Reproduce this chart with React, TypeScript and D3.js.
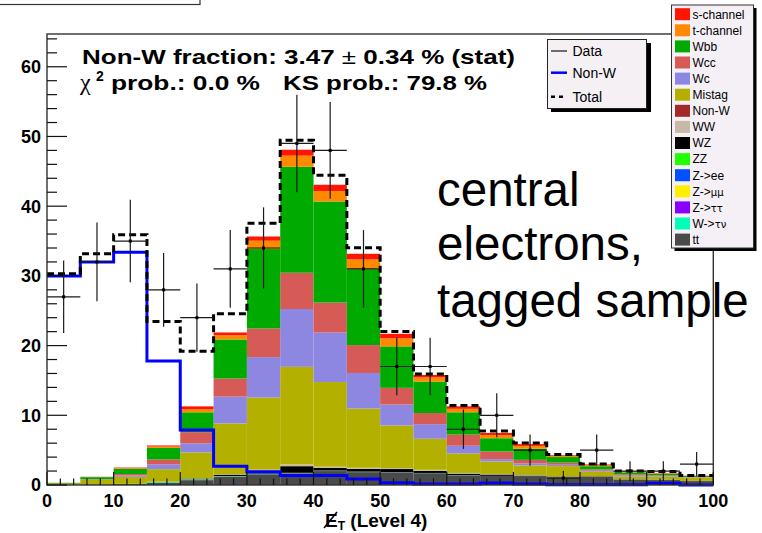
import React from 'react';
import * as d3 from 'd3';

// ---- data ----
const binLow = [0, 5, 10, 15, 20, 25, 30, 35, 40, 45, 50, 55, 60, 65, 70, 75, 80, 85, 90, 95];
const binHigh = [5, 10, 15, 20, 25, 30, 35, 40, 45, 50, 55, 60, 65, 70, 75, 80, 85, 90, 95, 100];

const ttbar = [0.05, 0.1, 0.15, 0.35, 0.7, 1.2, 1.55, 1.68, 2.0, 1.85, 1.8, 1.7, 1.4, 1.3, 1.2, 1.1, 1.2, 0.75, 0.7, 0.55];
const wTauNu = [0, 0, 0.02, 0.12, 0.05, 0.03, 0.05, 0.02, 0.02, 0.02, 0.02, 0.02, 0.02, 0.01, 0.01, 0.01, 0, 0, 0, 0];
const zTauTau = [0, 0, 0, 0, 0.01, 0.01, 0.01, 0.01, 0.01, 0.01, 0.01, 0, 0, 0, 0, 0, 0, 0, 0, 0];
const zMuMu = [0, 0, 0, 0, 0.01, 0.01, 0.01, 0.01, 0.01, 0.01, 0, 0, 0, 0, 0, 0, 0, 0, 0, 0];
const zEE = [0, 0, 0, 0, 0.01, 0.01, 0.01, 0.01, 0.01, 0.01, 0, 0, 0, 0, 0, 0, 0, 0, 0, 0];
const zz = [0, 0, 0, 0, 0.05, 0.02, 0.02, 0.02, 0.02, 0.02, 0.01, 0.01, 0.01, 0, 0, 0, 0, 0, 0, 0];
const wz = [0, 0, 0, 0, 0.1, 0.2, 0.35, 0.95, 0.4, 0.4, 0.45, 0.3, 0.2, 0.2, 0.15, 0.1, 0.05, 0.05, 0.05, 0.05];
const ww = [0, 0.03, 0, 0, 0.05, 0.05, 0.2, 0.25, 0.15, 0.15, 0.15, 0.15, 0.1, 0.08, 0.08, 0, 0, 0, 0, 0];
const mistag = [0.1, 0.6, 1.0, 1.8, 3.7, 7.3, 10.35, 14.0, 12.15, 8.5, 6.1, 4.45, 2.8, 1.77, 1.37, 1.5, 0.65, 0.4, 0.45, 0.45];
const wc = [0.02, 0.05, 0.2, 0.7, 1.3, 3.85, 5.8, 8.3, 7.1, 5.1, 3.0, 2.1, 1.1, 0.35, 0.3, 0.2, 0.15, 0.15, 0.1, 0.05];
const wcc = [0.03, 0.05, 0.2, 0.7, 1.6, 2.6, 4.1, 5.2, 4.3, 4.0, 2.4, 1.6, 1.6, 1.1, 0.5, 0.3, 0.2, 0.15, 0.1, 0.05];
const wbb = [0.1, 0.3, 0.75, 1.65, 2.85, 5.6, 11.4, 15.2, 14.5, 10.9, 5.95, 4.5, 3.2, 1.9, 1.6, 0.8, 0.45, 0.3, 0.2, 0.15];
const tChannel = [0.01, 0.03, 0.1, 0.2, 0.45, 0.6, 1.2, 1.6, 1.5, 1.4, 1.15, 0.6, 0.5, 0.45, 0.4, 0.2, 0.15, 0.1, 0.05, 0.03];
const sChannel = [0.01, 0.02, 0.08, 0.15, 0.4, 0.4, 0.6, 0.85, 0.9, 0.8, 0.65, 0.35, 0.35, 0.3, 0.25, 0.1, 0.1, 0.05, 0.05, 0.02];

const nonW = [30.0, 32.0, 33.4, 17.8, 7.9, 2.7, 1.9, 1.35, 1.35, 0.86, 0.33, 0.14, 0.14, 0.3, 0.15, 0.05, 0.05, 0.05, 0.25, 0];
const dataCounts = [27, 32, 35, 28, 24, 31, 34, 49, 48, 31, 17, 17, 8, 10, 5, 1, 5, 2, 2, 3];

const xTickLabels = [0, 10, 20, 30, 40, 50, 60, 70, 80, 90, 100];
const yTickLabels = [0, 10, 20, 30, 40, 50, 60];

const stackKeys = ['tt', 'wtaunu', 'ztautau', 'zmumu', 'zee', 'zz', 'wz', 'ww', 'mistag', 'wc', 'wcc', 'wbb', 'tch', 'sch'];
const stackSeries: Record<string, number[]> = {
  tt: ttbar, wtaunu: wTauNu, ztautau: zTauTau, zmumu: zMuMu, zee: zEE, zz: zz, wz: wz, ww: ww,
  mistag: mistag, wc: wc, wcc: wcc, wbb: wbb, tch: tChannel, sch: sChannel,
};
const colors: Record<string, string> = {
  sch: '#ff1500', tch: '#ff8a00', wbb: '#00aa00', wcc: '#d65a55', wc: '#8e87e2', mistag: '#b4b000',
  nonw: '#a22a2a', ww: '#c8b8a8', wz: '#000000', zz: '#22ff00', zee: '#0050ff', zmumu: '#ffee00',
  ztautau: '#8a00ff', wtaunu: '#00ffb8', tt: '#4a4a4a',
};
const legendKeys = ['sch', 'tch', 'wbb', 'wcc', 'wc', 'mistag', 'nonw', 'ww', 'wz', 'zz', 'zee', 'zmumu', 'ztautau', 'wtaunu', 'tt'];
const legendLabels: Record<string, [string, string]> = {
  sch: ['s-channel', ''], tch: ['t-channel', ''], wbb: ['Wbb', ''], wcc: ['Wcc', ''], wc: ['Wc', ''],
  mistag: ['Mistag', ''], nonw: ['Non-W', ''], ww: ['WW', ''], wz: ['WZ', ''], zz: ['ZZ', ''],
  zee: ['Z->ee', ''], zmumu: ['Z->', 'μμ'], ztautau: ['Z->', 'ττ'], wtaunu: ['W->', 'τν'], tt: ['tt', ''],
};

const FONT = "'Liberation Sans', Arial, Helvetica, sans-serif";

export default function App() {
  const W = 762, H = 533;
  const x = d3.scaleLinear().domain([0, 100]).range([47, 713.3]);
  const y = d3.scaleLinear().domain([0, 64.7]).range([485, 34]);

  const rows = binLow.map((b, i) => {
    const r: Record<string, number> = {};
    stackKeys.forEach(k => { r[k] = stackSeries[k][i]; });
    return r;
  });
  const stacked = d3.stack<Record<string, number>>().keys(stackKeys)(rows);
  const stackTop = rows.map((_, i) => stacked[stacked.length - 1][i][1]);
  const total = stackTop.map((s, i) => s + nonW[i]);

  const stepLine = d3.line<[number, number]>().x(d => x(d[0])).y(d => y(d[1])).curve(d3.curveStepAfter);
  const stepPts = (vals: number[]): [number, number][] => {
    const pts: [number, number][] = binLow.map((b, i) => [b, vals[i]]);
    pts.push([binHigh[binHigh.length - 1], vals[vals.length - 1]]);
    return pts;
  };

  const yMinor = y.ticks(35);
  const xMinor = x.ticks(50);

  return (
    <svg width={W} height={H} style={{ position: 'absolute', left: 0, top: 0, background: '#fff' }} fontFamily={FONT}>
      <rect x={0} y={0} width={W} height={H} fill="#fff" />
      {/* cut-off title box */}
      <rect x={-2} y={-12} width={202} height={16.5} fill="#fff" stroke="#333" strokeWidth={1.2} />

      {/* stacked histogram */}
      {stacked.map(layer => (
        <g key={layer.key} fill={colors[layer.key]}>
          {layer.map((d, i) => (
            d[1] - d[0] > 0 ? (
              <rect key={i} x={x(binLow[i])} width={x(binHigh[i]) - x(binLow[i])}
                y={y(d[1])} height={Math.max(0, y(d[0]) - y(d[1]))} />
            ) : null
          ))}
        </g>
      ))}

      {/* Non-W line */}
      <path d={stepLine(stepPts(nonW)) || ''} fill="none" stroke="#0000ff" strokeWidth={3} />
      {/* Total dashed */}
      <path d={stepLine(stepPts(total)) || ''} fill="none" stroke="#000" strokeWidth={3} strokeDasharray="7 4" />

      {/* data points */}
      <g stroke="#1a1a1a" strokeWidth={1.2}>
        {dataCounts.map((n, i) => {
          const cx = x((binLow[i] + binHigh[i]) / 2);
          const e = Math.sqrt(n);
          return (
            <g key={i}>
              <line x1={cx} x2={cx} y1={y(Math.max(0, n - e))} y2={y(n + e)} />
              <line x1={x(binLow[i])} x2={x(binHigh[i])} y1={y(n)} y2={y(n)} />
              <rect x={cx - 1.5} y={y(n) - 1.5} width={3} height={3} fill="#000" stroke="none" />
            </g>
          );
        })}
      </g>

      {/* frame */}
      <rect x={x(0)} y={y(64.7)} width={x(100) - x(0)} height={y(0) - y(64.7)} fill="none" stroke="#333" strokeWidth={1.4} />
      {/* ticks */}
      <g stroke="#111" strokeWidth={1.2}>
        {yMinor.map(t => {
          const major = yTickLabels.includes(t);
          return <line key={'ym' + t} x1={x(0)} x2={x(0) + (major ? 20 : 10)} y1={y(t)} y2={y(t)} />;
        })}
        {xMinor.map(t => {
          const major = xTickLabels.includes(t);
          return <line key={'xm' + t} x1={x(t)} x2={x(t)} y1={y(0)} y2={y(0) - (major ? 13 : 6.5)} />;
        })}
      </g>
      <g fontWeight="bold" fontSize={18} fill="#000">
        {yTickLabels.map(t => (
          <text key={'yl' + t} x={x(0) - 6} y={y(t)} dy="0.36em" textAnchor="end">{t}</text>
        ))}
        {xTickLabels.map(t => (
          <text key={'xl' + t} x={x(t)} y={506.5} textAnchor="middle">{t}</text>
        ))}
      </g>
      {/* x-axis title */}
      <g fontWeight="bold" fill="#000">
        <text x={325} y={526.5} fontSize={19}>E<tspan fontSize={12} dy={3}>T</tspan><tspan dy={-3}> (Level 4)</tspan></text>
        <line x1={324} y1={528} x2={337} y2={512} stroke="#000" strokeWidth={1.6} />
      </g>

      {/* fit info text */}
      <g fontWeight="bold" fill="#000">
        <text x={82} y={64} fontSize={21} textLength={433} lengthAdjust="spacingAndGlyphs">
          Non-W fraction: 3.47 <tspan fontWeight="normal">±</tspan> 0.34 % (stat)
        </text>
        <text x={80} y={90} fontSize={24} fontWeight="normal" fontFamily="'Liberation Serif', serif">χ</text>
        <text x={96} y={81} fontSize={14}>2</text>
        <text x={111} y={90} fontSize={21} textLength={149} lengthAdjust="spacingAndGlyphs">prob.: 0.0 %</text>
        <text x={283} y={90} fontSize={21} textLength={204} lengthAdjust="spacingAndGlyphs">KS prob.: 79.8 %</text>
      </g>

      {/* Data / Non-W / Total legend */}
      <g>
        <rect x={551} y={43} width={100} height={69} fill="#000" />
        <rect x={547.5} y={39.5} width={99} height={69} fill="#f4f0f4" stroke="#222" strokeWidth={1} />
        <line x1={551} x2={567} y1={51} y2={51} stroke="#111" strokeWidth={1.2} />
        <line x1={551} x2={567} y1={72.7} y2={72.7} stroke="#0000ff" strokeWidth={2.5} />
        <line x1={551} x2={567} y1={96.7} y2={96.7} stroke="#000" strokeWidth={2.5} strokeDasharray="4 4" />
        <g fontSize={14} fill="#000">
          <text x={572.5} y={56}>Data</text>
          <text x={572.5} y={78}>Non-W</text>
          <text x={572.5} y={102}>Total</text>
        </g>
      </g>

      {/* process legend */}
      <g>
        <rect x={674.5} y={8} width={82} height={243} fill="#000" />
        <rect x={671.5} y={5} width={82} height={243} fill="#f5f0f5" stroke="#333" strokeWidth={1} />
        {legendKeys.map((k, i) => {
          const cy = 14.2 + 16.1 * i;
          const [main, greek] = legendLabels[k];
          return (
            <g key={k}>
              <rect x={675} y={cy - 6} width={15} height={12} fill={colors[k]} />
              <text x={692.5} y={cy + 4.3} fontSize={12} fill="#000">
                {main}{greek ? <tspan fontSize={10} fontFamily="'DejaVu Sans', sans-serif">{greek}</tspan> : null}
              </text>
            </g>
          );
        })}
      </g>

      {/* annotation */}
      <g fontSize={47.5} fill="#000">
        <text x={437} y={206}>central</text>
        <text x={437} y={260}>electrons,</text>
        <text x={437} y={316.5}>tagged sample</text>
      </g>
    </svg>
  );
}
